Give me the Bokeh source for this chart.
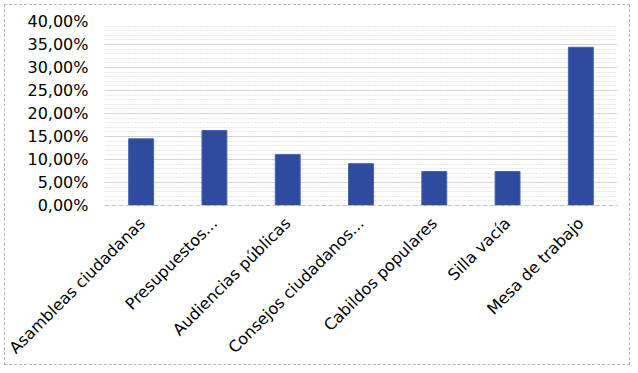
import math
from bokeh.plotting import figure
from bokeh.models import Range1d, FactorRange, SingleIntervalTicker, CustomJSTickFormatter
from bokeh.embed import file_html
from bokeh.resources import INLINE

categories = ["Asambleas ciudadanas", "Presupuestos...", "Audiencias públicas",
              "Consejos ciudadanos...", "Cabildos populares", "Silla vacía", "Mesa de trabajo"]
values = [0.145, 0.163, 0.111, 0.091, 0.074, 0.074, 0.344]

p = figure(x_range=FactorRange(*categories, range_padding=0), y_range=Range1d(0, 0.40),
           width=626, height=361, output_backend="svg", toolbar_location=None,
           min_border_left=99, min_border_right=14, min_border_top=16, min_border_bottom=161)
p.margin = (4, 0, 0, 4)
p.styles = {"border": "1px dashed #b4b4b4"}

p.vbar(x=categories, top=values, width=0.34, fill_color="#2F4B9F", line_color="#4863B0", line_width=1)

p.outline_line_color = None
p.background_fill_color = "white"
p.border_fill_color = "white"

p.yaxis.ticker = SingleIntervalTicker(interval=0.05, num_minor_ticks=5)
p.yaxis.formatter = CustomJSTickFormatter(code="return (tick*100).toFixed(2).replace('.', ',') + '%';")
p.yaxis.axis_line_color = None
p.yaxis.major_tick_line_color = None
p.yaxis.minor_tick_line_color = None
p.yaxis.major_tick_out = 0
p.yaxis.minor_tick_out = 0
p.yaxis.major_label_standoff = 16
p.yaxis.major_label_text_font = "DejaVu Sans"
p.yaxis.major_label_text_font_size = "16px"
p.yaxis.major_label_text_color = "#000000"

p.xaxis.axis_line_color = "#c0c0c0"
p.xaxis.axis_line_dash = "5 2"
p.xaxis.major_tick_line_color = None
p.xaxis.major_tick_out = 0
p.xaxis.major_label_orientation = math.pi / 4
p.xaxis.major_label_standoff = 15
p.xaxis.major_label_text_font = "DejaVu Sans"
p.xaxis.major_label_text_font_size = "16px"
p.xaxis.major_label_text_color = "#000000"

p.xgrid.grid_line_color = None
p.ygrid.grid_line_color = "#b8b8b8"
p.ygrid.grid_line_dash = "1 1"
p.ygrid.minor_grid_line_color = "#d0d0d0"
p.ygrid.minor_grid_line_dash = "1 2"

open("out.html", "w").write(file_html(p, INLINE))
